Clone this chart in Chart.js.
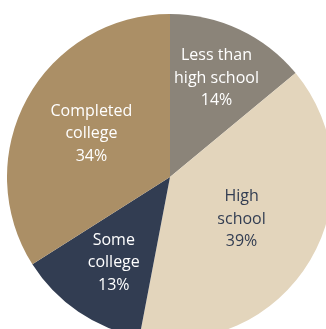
<!DOCTYPE html>
<html>
<head>
<meta charset="utf-8">
<script src="https://cdn.jsdelivr.net/npm/chart.js@4/dist/chart.umd.min.js"></script>
<style>
  html, body { margin: 0; padding: 0; background: #fff; overflow: hidden; }
  body { width: 326px; height: 329px; position: relative; }
  #wrap { position: absolute; left: 7px; top: 14px; width: 326px; height: 326px; }
</style>
</head>
<body>
<div id="wrap"><canvas id="pie"></canvas></div>
<script>
// education levels, clockwise from 12 o'clock
const categories = ['Less than\nhigh school', 'High\nschool', 'Some\ncollege', 'Completed\ncollege'];
const shares = [14, 39, 13, 34];
const sliceColors = ['#8b8479', '#e3d5bc', '#323d52', '#ab8f66'];
const textColors = ['#ffffff', '#323d52', '#ffffff', '#ffffff'];

// where each label sits: share of the radius, and a small turn away from the slice middle (degrees)
const labelRadius = [0.67, 0.51, 0.63, 0.55];
const labelTurn = [0, 0, -1, 0];

const sliceLabels = {
  id: 'sliceLabels',
  afterDatasetsDraw(chart) {
    const ctx = chart.ctx;
    const arcs = chart.getDatasetMeta(0).data;
    ctx.save();
    ctx.font = '16px "Open Sans", sans-serif';
    ctx.textAlign = 'center';
    ctx.textBaseline = 'middle';
    arcs.forEach((arc, i) => {
      const p = arc.getProps(['x', 'y', 'startAngle', 'endAngle', 'outerRadius'], true);
      const mid = (p.startAngle + p.endAngle) / 2 + labelTurn[i] * Math.PI / 180;
      const r = p.outerRadius * labelRadius[i];
      const cx = p.x + Math.cos(mid) * r;
      const cy = p.y + Math.sin(mid) * r;
      const lines = categories[i].split('\n').concat(shares[i] + '%');
      const lh = 22.5;
      ctx.fillStyle = textColors[i];
      lines.forEach((t, k) => {
        ctx.fillText(t, cx, cy + (k - (lines.length - 1) / 2) * lh);
      });
    });
    ctx.restore();
  }
};

new Chart(document.getElementById('pie'), {
  type: 'pie',
  data: {
    labels: categories,
    datasets: [{
      data: shares,
      backgroundColor: sliceColors,
      borderWidth: 0
    }]
  },
  options: {
    responsive: true,
    maintainAspectRatio: false,
    animation: false,
    layout: { padding: 0 },
    plugins: {
      legend: { display: false },
      tooltip: { enabled: false }
    }
  },
  plugins: [sliceLabels]
});
</script>
</body>
</html>
